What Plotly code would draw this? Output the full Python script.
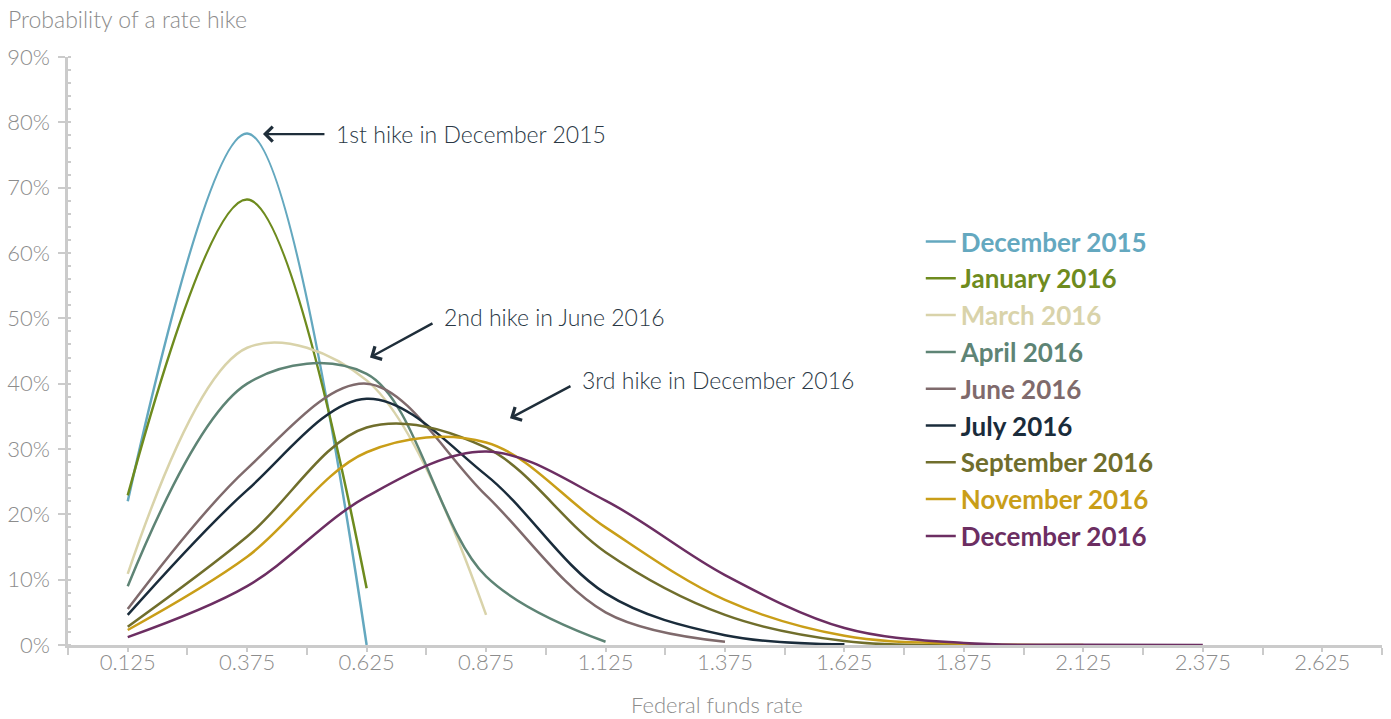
import plotly.graph_objects as go

rates = [0.125, 0.375, 0.625, 0.875, 1.125, 1.375, 1.625, 1.875, 2.125, 2.375]
tick_labels = ["0.125", "0.375", "0.625", "0.875", "1.125", "1.375", "1.625", "1.875", "2.125", "2.375", "2.625"]
tick_positions = [0.125, 0.375, 0.625, 0.875, 1.125, 1.375, 1.625, 1.875, 2.125, 2.375, 2.625]

dec_2015 = [22.0, 78.3, 0.0]
jan_2016 = [22.9, 68.2, 8.7]
mar_2016 = [10.9, 45.5, 40.5, 4.6]
apr_2016 = [9.0, 40.0, 41.5, 10.5, 0.5]
jun_2016 = [5.5, 27.0, 40.0, 22.9, 5.0, 0.5]
jul_2016 = [4.6, 23.7, 37.7, 26.0, 7.9, 1.5, 0.1]
sep_2016 = [2.8, 16.6, 33.3, 30.2, 14.2, 4.6, 0.6, 0.0]
nov_2016 = [2.3, 13.5, 29.5, 31.0, 18.0, 6.9, 1.4, 0.2, 0.0]
dec_2016 = [1.2, 9.0, 22.7, 29.6, 22.1, 10.7, 2.6, 0.3, 0.05, 0.0]

series = [
    ("December 2015", dec_2015, "#64A8BF"),
    ("January 2016", jan_2016, "#6E8B1E"),
    ("March 2016", mar_2016, "#D9D3AA"),
    ("April 2016", apr_2016, "#5E8475"),
    ("June 2016", jun_2016, "#7F6A6C"),
    ("July 2016", jul_2016, "#1A2C3B"),
    ("September 2016", sep_2016, "#706E2C"),
    ("November 2016", nov_2016, "#C99E18"),
    ("December 2016", dec_2016, "#6C2E62"),
]

FONT = "Lato, 'Liberation Sans', Arial, sans-serif"
GRAY = "#8c8c8c"
AXIS = "#cbcbcb"
DARK = "#1f2e3a"

fig = go.Figure()
for name, vals, color in series:
    fig.add_trace(go.Scatter(
        x=rates[:len(vals)], y=vals, mode="lines",
        name=f"<b><span style='color:{color}'>{name}</span></b>",
        line=dict(color=color, width=2.5, shape="spline", smoothing=1.0),
        hoverinfo="x+y",
    ))

fig.update_layout(
    width=1391, height=719,
    margin=dict(l=68, r=9, t=57, b=74),
    paper_bgcolor="white", plot_bgcolor="white",
    font=dict(family=FONT, color=GRAY, size=22),
    showlegend=True,
    legend=dict(
        x=0.649, y=0.726, xanchor="left", yanchor="top",
        bgcolor="rgba(0,0,0,0)",
        font=dict(family=FONT, size=26),
        tracegroupgap=0,
    ),
    xaxis=dict(
        range=[0, 2.75], showgrid=False, zeroline=False, automargin=False,
        showline=True, linecolor=AXIS, linewidth=2.5,
        tickmode="array", tickvals=tick_positions, ticktext=tick_labels,
        ticks="outside", ticklen=4, tickwidth=2, tickcolor=AXIS,
        tickfont=dict(family=FONT, size=22, color=GRAY, weight=300),
        ticklabelstandoff=-8,
        minor=dict(tickmode="array", tickvals=[0.25 * i for i in range(12)],
                   ticks="outside", ticklen=7, tickwidth=2, tickcolor=AXIS),
    ),
    yaxis=dict(
        range=[0, 90], showgrid=False, zeroline=False, automargin=False,
        showline=True, linecolor=AXIS, linewidth=2.5,
        tickmode="array", tickvals=[0, 10, 20, 30, 40, 50, 60, 70, 80, 90],
        ticktext=["0%", "10%", "20%", "30%", "40%", "50%", "60%", "70%", "80%", "90%"],
        ticks="outside", ticklen=7, tickwidth=2, tickcolor=AXIS,
        tickfont=dict(family=FONT, size=22, color=GRAY, weight=300),
        ticklabelstandoff=4,
        minor=dict(tickmode="linear", tick0=0, dtick=2,
                   ticks="inside", ticklen=3, tickwidth=1.5, tickcolor=AXIS),
    ),
)

annotations = [
    dict(text="Probability of a rate hike", xref="paper", yref="paper",
         x=-0.0475, y=1.064, xanchor="left", yanchor="middle", showarrow=False,
         font=dict(family=FONT, size=23, color=GRAY, weight=300)),
    dict(text="Federal funds rate", xref="paper", yref="paper",
         x=0.494, y=-0.101, xanchor="center", yanchor="middle", showarrow=False,
         font=dict(family=FONT, size=22, color=GRAY, weight=300)),
]
arrows = [
    ("1st hike in December 2015", 0.408, 78.2, 63, 0, -1),
    ("2nd hike in June 2016", 0.632, 44.0, 64, -35, 5),
    ("3rd hike in December 2016", 0.925, 34.7, 62, -33, 4),
]
for label, hx, hy, ax, ay, dy in arrows:
    annotations.append(dict(
        x=hx, y=hy, xref="x", yref="y", ax=ax, ay=ay, axref="pixel", ayref="pixel",
        text="", showarrow=True, arrowhead=4, arrowsize=1.2, arrowwidth=2.4,
        arrowcolor=DARK, standoff=0, startstandoff=0,
    ))
    annotations.append(dict(
        x=hx, y=hy, xref="x", yref="y", xshift=ax + 8, yshift=-ay + 1 + dy,
        text=label, showarrow=False, xanchor="left", yanchor="middle",
        font=dict(family=FONT, size=23, color="#2a3845", weight=300),
    ))
fig.update_layout(annotations=annotations)

fig.write_html(
    "out.html",
    config={"displayModeBar": False},
    post_script="document.body.style.margin='0';document.body.style.overflow='hidden';",
)
